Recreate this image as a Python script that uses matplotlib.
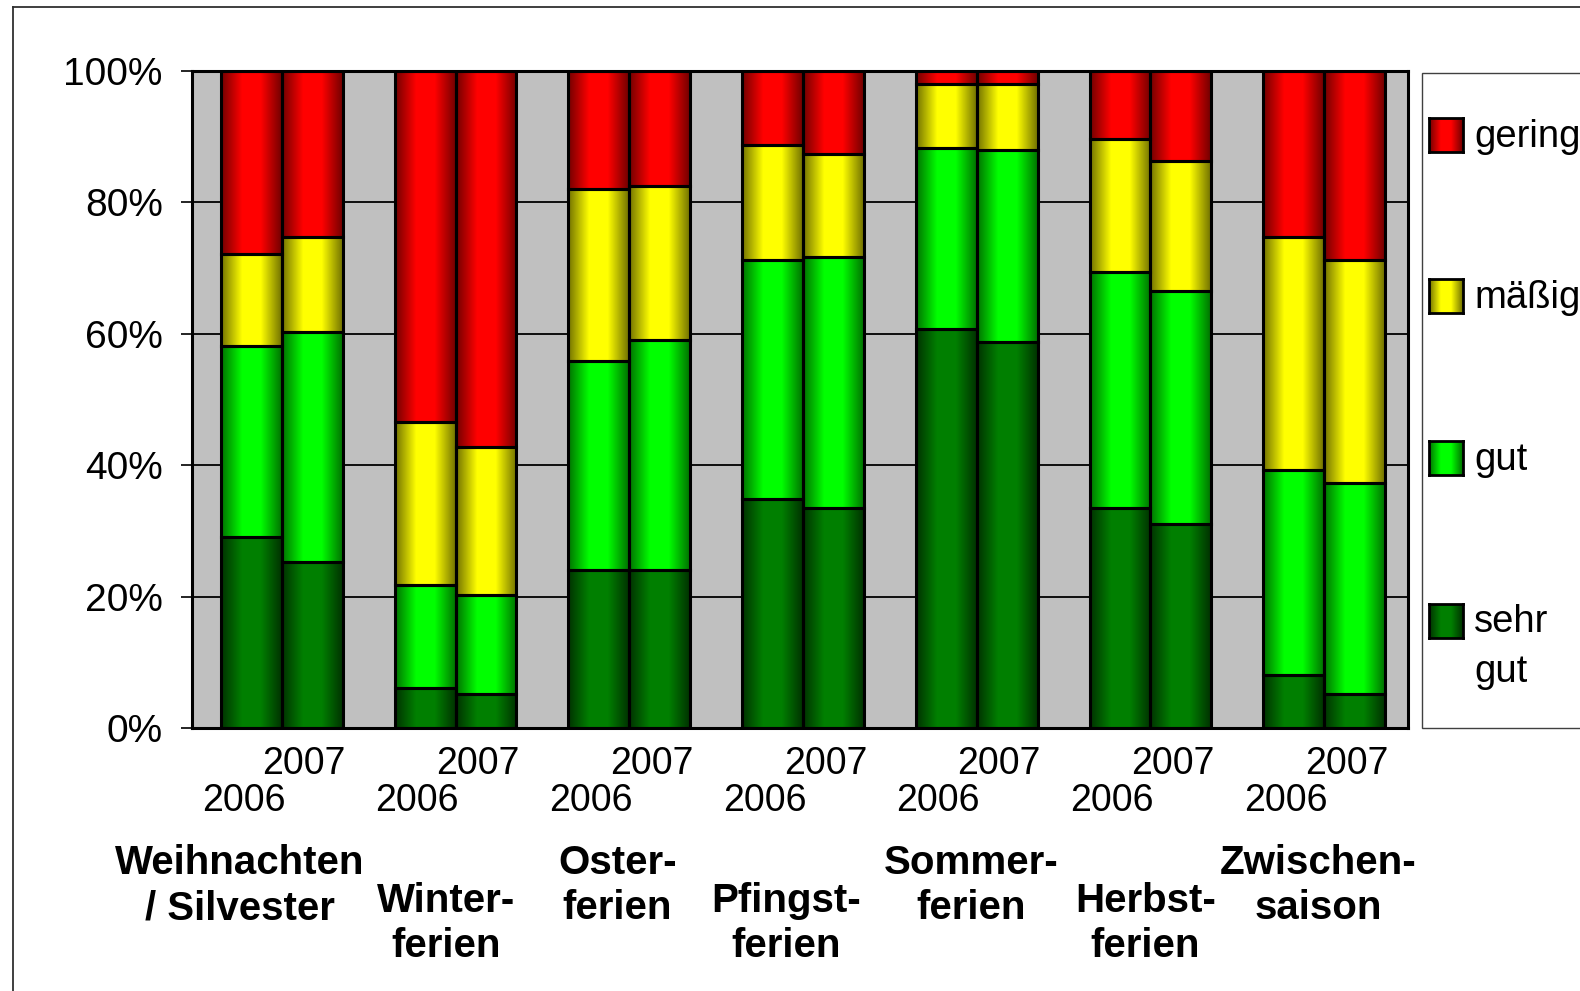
import numpy as np
import matplotlib
matplotlib.use("Agg")
import matplotlib.pyplot as plt
from matplotlib import transforms
from matplotlib.ticker import PercentFormatter
from matplotlib.patches import Rectangle
from matplotlib.lines import Line2D

# ---------------- data ----------------
categories = ["Weihnachten\n/ Silvester", "Winter-\nferien", "Oster-\nferien",
              "Pfingst-\nferien", "Sommer-\nferien", "Herbst-\nferien",
              "Zwischen-\nsaison"]
years = ["2006", "2007"]
series_names = ["sehr gut", "gut", "mäßig", "gering"]
legend_labels = ["sehr\ngut", "gut", "mäßig", "gering"]

# percentages per category, [2006, 2007]
sehr_gut = [[29.0, 25.2], [6.1, 5.2], [24.1, 24.1], [34.9, 33.5], [60.7, 58.7], [33.5, 31.0], [8.1, 5.2]]
gut      = [[29.2, 35.0], [15.7, 15.1], [31.8, 35.0], [36.4, 38.2], [27.6, 29.2], [35.9, 35.5], [31.2, 32.1]]
maessig  = [[14.0, 14.5], [24.7, 22.4], [26.1, 23.4], [17.5, 15.7], [9.7, 10.1], [20.3, 19.8], [35.4, 34.0]]
gering   = [[27.8, 25.3], [53.5, 57.3], [18.0, 17.5], [11.2, 12.6], [2.0, 2.0], [10.3, 13.7], [25.3, 28.7]]
series_values = [sehr_gut, gut, maessig, gering]

# ---------------- style ----------------
center_colors = [(0.0, 0.50, 0.0), (0.0, 1.0, 0.0), (1.0, 1.0, 0.0), (1.0, 0.0, 0.0)]
edge_colors = [(0.0, 0.20, 0.0), (0.0, 0.45, 0.0), (0.45, 0.45, 0.0), (0.45, 0.0, 0.0)]

W, H = 1580, 991
DPI = 100
plt.rcParams['font.family'] = ['Liberation Sans', 'DejaVu Sans']

fig = plt.figure(figsize=(W / DPI, H / DPI), dpi=DPI)
fig.patch.set_facecolor('white')

def fx(x):
    return x / W

def fy(y):
    return 1 - y / H

ax_l, ax_r, ax_t, ax_b = 192, 1408, 71, 728
ax = fig.add_axes([fx(ax_l), fy(ax_b), fx(ax_r - ax_l), (ax_b - ax_t) / H])
ax.set_facecolor('#C0C0C0')

ncat = len(categories)
px_per_unit = (ax_r - ax_l) / ncat
bar_w = 0.35
shift = 3 / px_per_unit
offsets = [-bar_w / 2 + shift, bar_w / 2 + shift]


def gradient_row(c_center, c_edge, n=64):
    t = np.linspace(0, 1, n)
    b = np.clip(1.45 * (1 - np.abs(2 * t - 1)), 0, 1)
    cc = np.array(c_center)
    ce = np.array(c_edge)
    row = ce[None, :] + (cc - ce)[None, :] * b[:, None]
    return row[None, :, :]


x = np.arange(ncat)
for yi, yr in enumerate(years):
    bottom = np.zeros(ncat)
    for si, name in enumerate(series_names):
        vals = np.array([series_values[si][c][yi] for c in range(ncat)]) / 100.0
        bars = ax.bar(x + offsets[yi], vals, bar_w, bottom=bottom,
                      facecolor='none', edgecolor='black', linewidth=2.2,
                      zorder=3)
        grad = gradient_row(center_colors[si], edge_colors[si])
        for p in bars.patches:
            x0, y0 = p.get_x(), p.get_y()
            ax.imshow(grad, extent=[x0, x0 + p.get_width(), y0, y0 + p.get_height()],
                      aspect='auto', interpolation='bilinear', zorder=2.5)
        bottom = bottom + vals

ax.set_xlim(-0.5, ncat - 0.5)
ax.set_ylim(0, 1)
ax.set_aspect('auto')
ax.set_yticks(np.arange(0, 1.01, 0.2))
ax.yaxis.set_major_formatter(PercentFormatter(1.0, decimals=0))
ax.grid(axis='y', color='black', linewidth=1.3, zorder=1)
ax.set_axisbelow(True)
ax.set_xticks([])
ax.tick_params(axis='y', direction='out', length=8, width=1.2, pad=13,
               labelsize=28, colors='black')
for s in ax.spines.values():
    s.set_linewidth(2.2)
    s.set_color('black')
    s.set_zorder(4)

# x labels
bt = transforms.blended_transform_factory(ax.transData, fig.transFigure)
year_rows = [811, 774]  # baseline pixel rows for 2006 / 2007
for c in range(ncat):
    for yi, yr in enumerate(years):
        ax.text(x[c] + offsets[yi] - 8 / px_per_unit, fy(year_rows[yi]), yr,
                transform=bt, ha='center', va='baseline', fontsize=27,
                clip_on=False)

cat_dx = [-39, -6, -9, -14, -3, -2, -3]
cat_row = [919, 957, 919, 957, 919, 957, 919]  # baseline of last line
for c, lab in enumerate(categories):
    ax.text(x[c] + cat_dx[c] / px_per_unit, fy(cat_row[c]), lab, transform=bt,
            ha='center', va='baseline', fontsize=29, fontweight='bold',
            linespacing=1.24, clip_on=False)

# legend (clipped by figure edge like the reference)
leg_l, leg_t, leg_b = 1422, 73, 728
fig.patches.append(Rectangle((fx(leg_l), fy(leg_b)), fx(300), (leg_b - leg_t) / H,
                             transform=fig.transFigure, facecolor='white',
                             edgecolor='#404040', linewidth=1.0, zorder=0.5))
leg_centers = [621, 458, 296, 135]
leg_baseline = [682, 470, 308, 147]  # baseline of last line
sq = 34
for si, name in enumerate(series_names):
    cy = leg_centers[si]
    lax = fig.add_axes([fx(1429), fy(cy + sq / 2), fx(sq), sq / H], zorder=2)
    lax.imshow(gradient_row(center_colors[si], edge_colors[si]), aspect='auto',
               interpolation='bilinear', extent=[0, 1, 0, 1])
    lax.set_xticks([])
    lax.set_yticks([])
    for s in lax.spines.values():
        s.set_linewidth(2.0)
    fig.text(fx(1474), fy(leg_baseline[si]), legend_labels[si], ha='left', va='baseline',
             fontsize=27.5, linespacing=1.5, zorder=3)

# outer frame (left and top edges visible)
fig.lines.append(Line2D([fx(13), fx(13)], [fy(7), fy(1000)], transform=fig.transFigure,
                        color='#303030', linewidth=1.3))
fig.lines.append(Line2D([fx(13), fx(1600)], [fy(7), fy(7)], transform=fig.transFigure,
                        color='#303030', linewidth=1.3))

fig.savefig('out.png', dpi=DPI)
